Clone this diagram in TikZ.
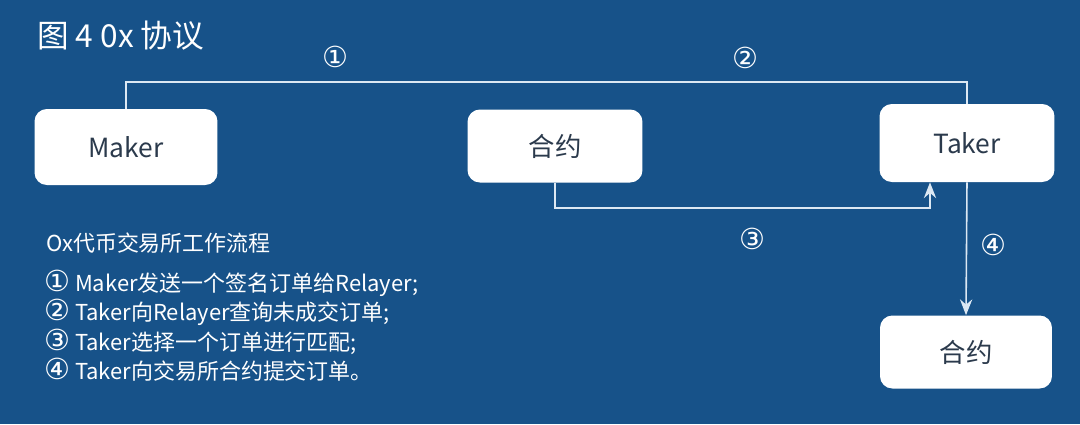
\documentclass[tikz,border=0pt]{standalone}
\usepackage{fontspec}
\setmainfont{Noto Sans CJK SC}
\newfontfamily\circfont{DejaVu Sans}
\newcommand\circnum[1]{{\circfont\fontsize{16.5}{16.7}\selectfont #1}}
\usetikzlibrary{arrows.meta}
\definecolor{bgblue}{HTML}{175289}
\definecolor{boxtext}{HTML}{2B3A4C}
\definecolor{linecol}{HTML}{DCE8F3}

\begin{document}
\begin{tikzpicture}[x=0.02cm, y=-0.02cm,
    box/.style={fill=white, rounded corners=7pt, minimum width=3.5cm, minimum height=1.46cm,
        text=boxtext, font=\fontsize{15}{18}\selectfont},
    flow/.style={draw=linecol, line width=0.9pt},
    tip/.style={-{Stealth[length=9pt, width=7pt, inset=3pt]}},
    num/.style={text=white, font=\circfont\fontsize{16.5}{18}\selectfont}]
    \fill[bgblue] (0,0) rectangle (1080,424);
    \node[anchor=west, text=white, font=\fontsize{18}{20}\selectfont] (title) at (31,36) {图 4 0x 协议};
    % the three parties
    \node[box, minimum width=3.66cm, minimum height=1.52cm] (maker) at (126,147) {Maker};
    \node[box] (contract) at (555,146) {合约};
    \node[box, minimum height=1.56cm] (taker) at (967,143) {Taker};
    \node[box, minimum width=3.44cm] (order) at (966,352) {合约};
    % steps
    \coordinate (top) at (554,82);
    \coordinate (low) at (930,208);
    \draw[flow] (maker.north) |- (top) -| (taker.north);
    \draw[flow, tip] (contract.south) |- (low) -- (low |- taker.south);
    \draw[flow, tip] (taker.south) -- (order.north);
    \node[num] (n1) at (335,57) {①};
    \node[num] (n2) at (745,58) {②};
    \node[num] (n3) at (752,239) {③};
    \node[num] (n4) at (993,245) {④};
    % legend
    \node[anchor=west, text=white, font=\fontsize{12.5}{15}\selectfont] (legend) at (40,243) {Ox代币交易所工作流程};
    \node[anchor=north west, text=white, align=left, font=\fontsize{12.5}{16.7}\selectfont] (steps) at (38,264)
        {\circnum{①} Maker发送一个签名订单给Relayer;\\
         \circnum{②} Taker向Relayer查询未成交订单;\\
         \circnum{③} Taker选择一个订单进行匹配;\\
         \circnum{④} Taker向交易所合约提交订单。};
\end{tikzpicture}
\end{document}
